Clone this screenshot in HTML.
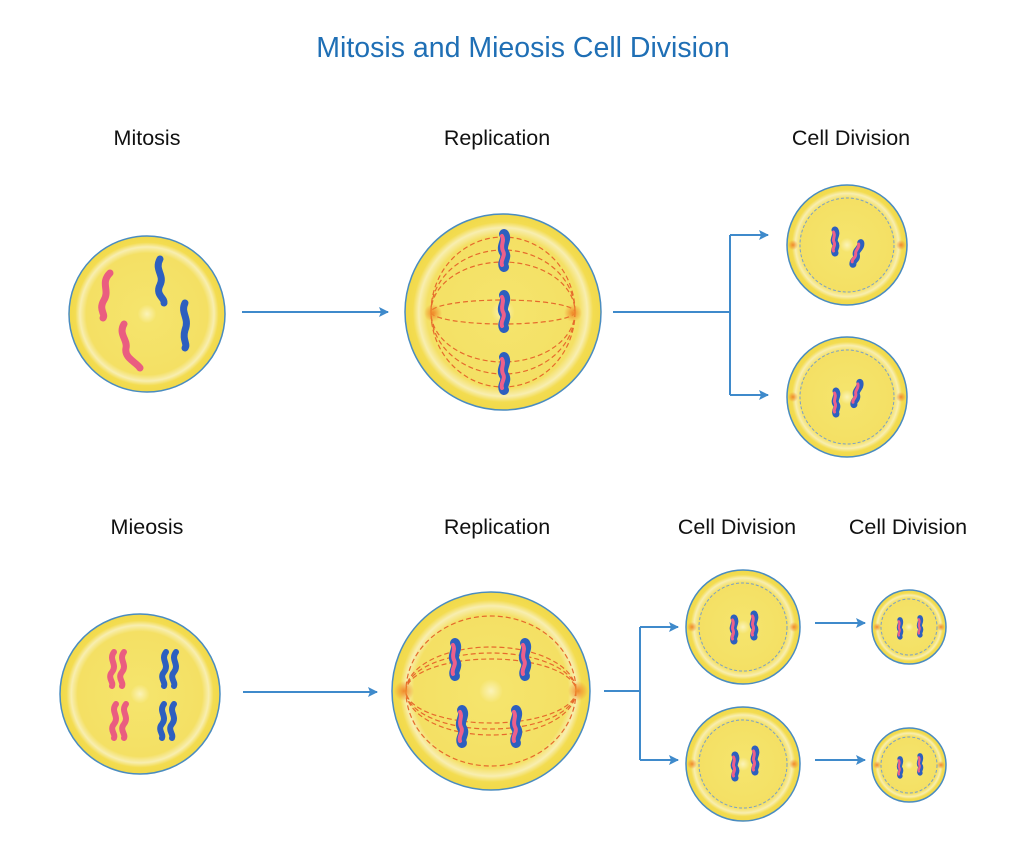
<!DOCTYPE html>
<html><head><meta charset="utf-8"><style>
html,body{margin:0;padding:0;background:#fff}
svg{display:block}
text{font-family:"Liberation Sans",sans-serif}
</style></head><body>
<svg width="1023" height="867" viewBox="0 0 1023 867" xmlns="http://www.w3.org/2000/svg">
<defs>
<radialGradient id="cg" cx="50%" cy="50%" r="50%">
<stop offset="0" stop-color="#fbf3b8"/>
<stop offset="0.12" stop-color="#f5e46c"/>
<stop offset="0.78" stop-color="#f4e064"/>
<stop offset="0.86" stop-color="#f8eeb0"/>
<stop offset="0.92" stop-color="#f3dc50"/>
<stop offset="1" stop-color="#f1d94a"/>
</radialGradient>
<radialGradient id="pole"><stop offset="0" stop-color="#f08a2a"/><stop offset="1" stop-color="#f08a2a" stop-opacity="0"/></radialGradient>
<marker id="ar" markerWidth="10" markerHeight="10" refX="9" refY="5" orient="auto" markerUnits="userSpaceOnUse">
<path d="M0,0 L10,5 L0,10 L2,5 Z" fill="#3f8acb"/></marker>
<g id="rc">
<path d="M0,-16 C4,-10 -4,-4 0,2 C4,8 -3,12 0,17" stroke="#2d5fbf" stroke-width="10" fill="none" stroke-linecap="round"/>
<path d="M-2,-14 C1,-9 -4,-5 -1,1 C2,6 -4,10 -2,15" stroke="#ee5f8a" stroke-width="4" fill="none" stroke-linecap="round"/>
</g>
<g id="sc">
<path d="M0,-11 C3,-6 -3,-2 0,2 C3,6 -2,8 0,12" stroke="#2d5fbf" stroke-width="7" fill="none" stroke-linecap="round"/>
<path d="M-1.5,-9 C1,-5 -3,-2 -1,1 C1,5 -3,7 -1.5,10" stroke="#ee5f8a" stroke-width="3" fill="none" stroke-linecap="round"/>
</g>
</defs>

<text x="523" y="57" font-size="28.5" fill="#1f6fb5" text-anchor="middle">Mitosis and Mieosis Cell Division</text>
<g font-size="21.5" fill="#111" text-anchor="middle">
<text x="147" y="145">Mitosis</text>
<text x="497" y="145">Replication</text>
<text x="851" y="145">Cell Division</text>
<text x="147" y="534">Mieosis</text>
<text x="497" y="534">Replication</text>
<text x="737" y="534">Cell Division</text>
<text x="908" y="534">Cell Division</text>
</g>

<g stroke="#3f8acb" stroke-width="2" fill="none">
<line x1="242" y1="312" x2="388" y2="312" marker-end="url(#ar)"/>
<polyline points="613,312 730,312"/>
<line x1="730" y1="235" x2="730" y2="395"/>
<line x1="730" y1="235" x2="768" y2="235" marker-end="url(#ar)"/>
<line x1="730" y1="395" x2="768" y2="395" marker-end="url(#ar)"/>
<line x1="243" y1="692" x2="377" y2="692" marker-end="url(#ar)"/>
<line x1="604" y1="691" x2="640" y2="691"/>
<line x1="640" y1="627" x2="640" y2="760"/>
<line x1="640" y1="627" x2="678" y2="627" marker-end="url(#ar)"/>
<line x1="640" y1="760" x2="678" y2="760" marker-end="url(#ar)"/>
<line x1="815" y1="623" x2="865" y2="623" marker-end="url(#ar)"/>
<line x1="815" y1="760" x2="865" y2="760" marker-end="url(#ar)"/>
</g>

<circle cx="147" cy="314" r="78" fill="url(#cg)" stroke="#4a8cc0" stroke-width="1.5"/>
<g fill="none" stroke-linecap="round" stroke-width="7">
<path d="M110,273 C100,283 110,290 104,300 C98,310 106,314 103,318" stroke="#ea5d80"/>
<path d="M160,259 C154,270 165,275 160,285 C155,295 165,298 164,303" stroke="#2d5fbf"/>
<path d="M185,303 C180,313 190,318 185,330 C182,340 188,344 185,348" stroke="#2d5fbf"/>
<path d="M124,324 C118,334 128,340 126,348 C124,358 136,362 140,368" stroke="#ea5d80"/>
</g>

<circle cx="503" cy="312" r="98" fill="url(#cg)" stroke="#4a8cc0" stroke-width="1.5"/>
<g fill="none" stroke="#e66a2c" stroke-width="1.2" stroke-dasharray="5,3">
<ellipse cx="503" cy="312" rx="72" ry="75"/>
<ellipse cx="503" cy="312" rx="72" ry="62"/>
<ellipse cx="503" cy="312" rx="72" ry="50"/>
<ellipse cx="503" cy="312" rx="72" ry="12"/>
</g>
<circle cx="433" cy="313" r="9" fill="url(#pole)"/><circle cx="573" cy="313" r="9" fill="url(#pole)"/>
<use href="#rc" x="504" y="250"/><use href="#rc" x="504" y="311"/><use href="#rc" x="504" y="373"/>

<g>
<circle cx="847" cy="245" r="60" fill="url(#cg)" stroke="#4a8cc0" stroke-width="1.5"/>
<circle cx="847" cy="245" r="47" fill="none" stroke="#7aa0c8" stroke-width="1" stroke-dasharray="3,2"/>
<circle cx="793" cy="245" r="5" fill="url(#pole)"/><circle cx="901" cy="245" r="5" fill="url(#pole)"/>
<use href="#sc" x="835" y="241"/><use href="#sc" x="857" y="253" transform="rotate(20 857 253)"/>
<circle cx="847" cy="397" r="60" fill="url(#cg)" stroke="#4a8cc0" stroke-width="1.5"/>
<circle cx="847" cy="397" r="47" fill="none" stroke="#7aa0c8" stroke-width="1" stroke-dasharray="3,2"/>
<circle cx="793" cy="397" r="5" fill="url(#pole)"/><circle cx="901" cy="397" r="5" fill="url(#pole)"/>
<use href="#sc" x="836" y="402"/><use href="#sc" x="857" y="393" transform="rotate(15 857 393)"/>
</g>

<circle cx="140" cy="694" r="80" fill="url(#cg)" stroke="#4a8cc0" stroke-width="1.5"/>
<g fill="none" stroke-linecap="round" stroke-width="6">
<path d="M114,652 C108,660 118,664 112,672 C107,678 114,682 112,686" stroke="#ea5d80"/>
<path d="M124,652 C118,660 128,664 122,672 C117,678 124,682 122,686" stroke="#ea5d80"/>
<path d="M166,652 C160,660 170,664 164,672 C159,678 166,682 164,686" stroke="#2d5fbf"/>
<path d="M176,652 C170,660 180,664 174,672 C169,678 176,682 174,686" stroke="#2d5fbf"/>
<path d="M116,704 C110,712 120,716 114,724 C109,730 116,734 114,738" stroke="#ea5d80"/>
<path d="M126,704 C120,712 130,716 124,724 C119,730 126,734 124,738" stroke="#ea5d80"/>
<path d="M164,704 C158,712 168,716 162,724 C157,730 164,734 162,738" stroke="#2d5fbf"/>
<path d="M174,704 C168,712 178,716 172,724 C167,730 174,734 172,738" stroke="#2d5fbf"/>
</g>

<circle cx="491" cy="691" r="99" fill="url(#cg)" stroke="#4a8cc0" stroke-width="1.5"/>
<g fill="none" stroke="#e66a2c" stroke-width="1.2" stroke-dasharray="5,3">
<ellipse cx="491" cy="691" rx="85" ry="75"/>
<ellipse cx="491" cy="691" rx="85" ry="44"/>
<ellipse cx="491" cy="691" rx="85" ry="38"/>
<ellipse cx="491" cy="691" rx="85" ry="32"/>
</g>
<circle cx="404" cy="691" r="10" fill="url(#pole)"/><circle cx="578" cy="691" r="10" fill="url(#pole)"/>
<use href="#rc" x="455" y="659"/><use href="#rc" x="525" y="659"/>
<use href="#rc" x="462" y="726"/><use href="#rc" x="516" y="726"/>

<circle cx="743" cy="627" r="57" fill="url(#cg)" stroke="#4a8cc0" stroke-width="1.5"/>
<circle cx="743" cy="627" r="44" fill="none" stroke="#7aa0c8" stroke-width="1" stroke-dasharray="3,2"/>
<circle cx="692" cy="627" r="5" fill="url(#pole)"/><circle cx="794" cy="627" r="5" fill="url(#pole)"/>
<use href="#sc" x="734" y="629"/><use href="#sc" x="754" y="625"/>
<circle cx="743" cy="764" r="57" fill="url(#cg)" stroke="#4a8cc0" stroke-width="1.5"/>
<circle cx="743" cy="764" r="44" fill="none" stroke="#7aa0c8" stroke-width="1" stroke-dasharray="3,2"/>
<circle cx="692" cy="764" r="5" fill="url(#pole)"/><circle cx="794" cy="764" r="5" fill="url(#pole)"/>
<use href="#sc" x="735" y="766"/><use href="#sc" x="755" y="760"/>

<circle cx="909" cy="627" r="37" fill="url(#cg)" stroke="#4a8cc0" stroke-width="1.5"/>
<circle cx="909" cy="627" r="28" fill="none" stroke="#7aa0c8" stroke-width="1" stroke-dasharray="3,2"/>
<circle cx="877" cy="627" r="4" fill="url(#pole)"/><circle cx="941" cy="627" r="4" fill="url(#pole)"/>
<g transform="translate(900,628) scale(0.75)"><use href="#sc"/></g>
<g transform="translate(920,626) scale(0.75)"><use href="#sc"/></g>
<circle cx="909" cy="765" r="37" fill="url(#cg)" stroke="#4a8cc0" stroke-width="1.5"/>
<circle cx="909" cy="765" r="28" fill="none" stroke="#7aa0c8" stroke-width="1" stroke-dasharray="3,2"/>
<circle cx="877" cy="765" r="4" fill="url(#pole)"/><circle cx="941" cy="765" r="4" fill="url(#pole)"/>
<g transform="translate(900,767) scale(0.75)"><use href="#sc"/></g>
<g transform="translate(920,764) scale(0.75)"><use href="#sc"/></g>
</svg>
</body></html>
